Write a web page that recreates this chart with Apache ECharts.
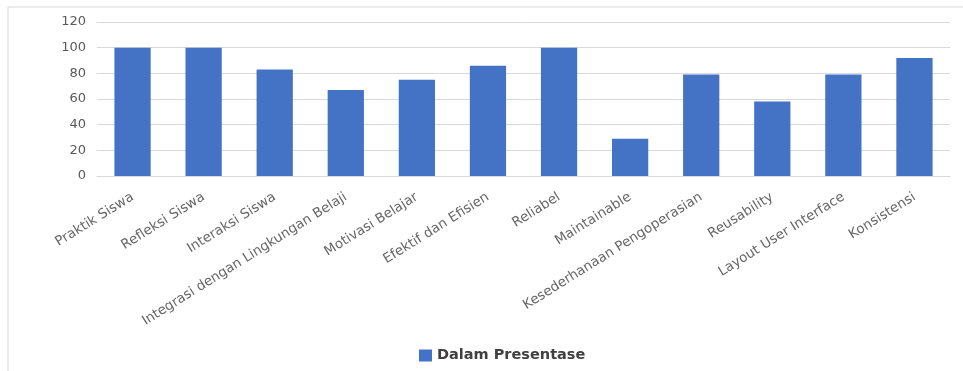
<!DOCTYPE html>
<html><head><meta charset="utf-8">
<script src="https://cdn.jsdelivr.net/npm/echarts@6/dist/echarts.min.js"></script>
<style>html,body{margin:0;padding:0;background:#fff}#c{width:963px;height:371px}</style>
</head><body><div id="c"></div>
<script>
const categories = ["Praktik Siswa","Refleksi Siswa","Interaksi Siswa","Integrasi dengan Lingkungan Belaji","Motivasi Belajar","Efektif dan Efisien","Reliabel","Maintainable","Kesederhanaan Pengoperasian","Reusability","Layout User Interface","Konsistensi"];
const values = [100,100,83,67,75,86,100,29,79,58,79,92];
const seriesName = "Dalam Presentase";
const yTicks = {min:0, max:120, interval:20};

const chart = echarts.init(document.getElementById('c'));
chart.setOption({
  animation:false,
  textStyle:{fontFamily:"DejaVu Sans"},
  graphic:[{type:'rect',shape:{x:8,y:7,width:970,height:380},style:{fill:'none',stroke:'#d9d9d9',lineWidth:1},silent:true}],
  grid:{left:97,right:13,top:22,bottom:195},
  legend:{top:343,left:414,itemWidth:13,itemHeight:12,icon:'rect',itemGap:8,
    textStyle:{color:'#404040',fontSize:14.5,fontWeight:'bold'},data:[seriesName]},
  xAxis:{type:'category',data:categories,
    axisLine:{lineStyle:{color:'#d9d9d9'}},axisTick:{show:false},
    axisLabel:{rotate:32,interval:0,color:'#666666',fontSize:13.5,margin:20}},
  yAxis:{type:'value',min:yTicks.min,max:yTicks.max,interval:yTicks.interval,
    axisLine:{show:false},axisTick:{show:false},
    splitLine:{lineStyle:{color:'#d9d9d9'}},
    axisLabel:{color:'#595959',fontSize:13,margin:11}},
  series:[{name:seriesName,type:'bar',data:values,barCategoryGap:'49%',
    itemStyle:{color:'#4472C4'}}]
});
</script></body></html>
